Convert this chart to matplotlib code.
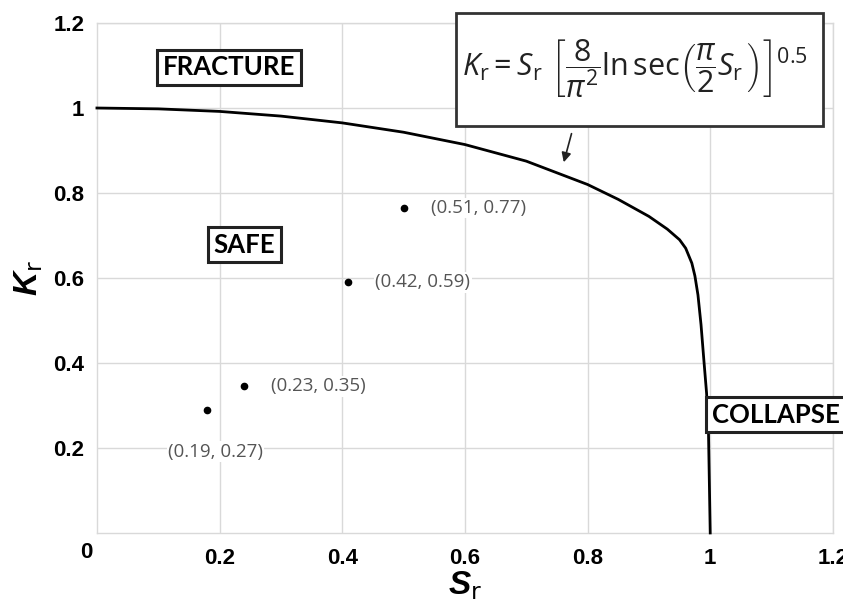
import matplotlib
matplotlib.use('Agg')
import matplotlib.pyplot as plt
from matplotlib.patches import Rectangle

# failure assessment curve
sr_curve = [0, 0.1, 0.2, 0.3, 0.4, 0.5, 0.6, 0.7, 0.8, 0.85, 0.9, 0.93,
            0.95, 0.96, 0.97, 0.975, 0.98, 0.985, 0.99, 0.994, 0.997, 1.0]
kr_curve = [1.0, 0.998, 0.992, 0.981, 0.965, 0.943, 0.914, 0.875, 0.82, 0.785,
            0.745, 0.715, 0.69, 0.67, 0.635, 0.605, 0.56, 0.49, 0.40, 0.33,
            0.25, 0.0]

# assessed points and their labels
sr_pts = [0.18, 0.24, 0.41, 0.50]
kr_pts = [0.29, 0.345, 0.59, 0.765]
pt_labels = ['(0.19, 0.27)', '(0.23, 0.35)', '(0.42, 0.59)', '(0.51, 0.77)']

ticks = [0.2, 0.4, 0.6, 0.8, 1.0, 1.2]
tick_labels = ['0.2', '0.4', '0.6', '0.8', '1', '1.2']

plt.rcParams['mathtext.fontset'] = 'custom'
plt.rcParams['mathtext.rm'] = 'Open Sans'
plt.rcParams['mathtext.it'] = 'Open Sans:italic'
plt.rcParams['mathtext.bf'] = 'Liberation Sans:bold'
plt.rcParams['mathtext.bfit'] = 'Liberation Sans:bold:italic'

fig = plt.figure(figsize=(8.43, 6.14), dpi=100)
ax = fig.add_axes([0.115, 0.132, 0.873, 0.8305])

grid_c = '#d9d9d9'
ax.set_xlim(0, 1.2)
ax.set_ylim(0, 1.2)
ax.set_xticks(ticks)
ax.set_yticks(ticks)
ax.set_xticklabels(tick_labels)
ax.set_yticklabels(tick_labels)
for lab in ax.get_xticklabels() + ax.get_yticklabels():
    lab.set_fontfamily('Liberation Sans')
    lab.set_fontweight('bold')
    lab.set_fontsize(16)
ax.tick_params(axis='x', length=0, pad=11)
ax.tick_params(axis='y', length=0, pad=9)
ax.grid(True, color=grid_c, lw=1.0)
ax.set_axisbelow(True)
for s in ax.spines.values():
    s.set_color(grid_c)
    s.set_linewidth(1.0)

# shared zero at the corner
ax.text(-0.017, -0.045, '0', ha='center', va='center', fontsize=16,
        fontweight='bold', family='Liberation Sans', clip_on=False)

ax.plot(sr_curve, kr_curve, color='black', lw=2.0, zorder=3, clip_on=False)
ax.plot(sr_pts, kr_pts, 'o', color='black', ms=4.5, zorder=4)

lbl_kw = dict(fontsize=13.5, color='#555555', family='Open Sans', zorder=5,
              bbox=dict(fc='white', ec='none', pad=1))
for x, y, t in zip(sr_pts[1:], kr_pts[1:], pt_labels[1:]):
    ax.annotate(t, (x, y), xytext=(27, 0), textcoords='offset pixels',
                ha='left', va='center', **lbl_kw)
ax.annotate(pt_labels[0], (sr_pts[0], kr_pts[0]), xytext=(8, -42),
            textcoords='offset pixels', ha='center', va='center', **lbl_kw)

box_kw = dict(fontsize=18.5, fontweight='bold', family='Lato', ha='center',
              va='center', zorder=6)
frame = dict(fc='white', ec='#222222', lw=2.2, boxstyle='square,pad=0.22')
ax.text(0.215, 1.096, 'FRACTURE', bbox=frame, **box_kw)
ax.text(0.24, 0.678, 'SAFE', bbox=frame, **box_kw)
ax.text(1.107, 0.278, 'COLLAPSE', clip_on=False, bbox=frame, **box_kw)

# formula box
ax.add_patch(Rectangle((0.585, 0.958), 0.599, 0.266, fc='white', ec='#333333',
                       lw=2.0, clip_on=False, zorder=6))
ax.text(0.878, 1.093,
        r'$K_\mathrm{r} = S_\mathrm{r}\ \left[\dfrac{8}{\pi^2}\mathrm{ln\,sec}'
        r'\left(\dfrac{\pi}{2}S_\mathrm{r}\,\right)\right]^{0.5}$',
        ha='center', va='center', fontsize=22, color='#222222', zorder=7,
        clip_on=False)
ax.annotate('', xy=(0.760, 0.866), xytext=(0.775, 0.946),
            arrowprops=dict(arrowstyle='-|>', color='#222222', lw=1.2,
                            mutation_scale=14), zorder=7)

ax.set_xlabel(r'$\mathbfit{S}_\mathregular{r}$', fontsize=24, labelpad=0)
ax.set_ylabel(r'$\mathbfit{K}_\mathregular{r}$', fontsize=24, labelpad=6)

fig.savefig('out.png', dpi=100)
